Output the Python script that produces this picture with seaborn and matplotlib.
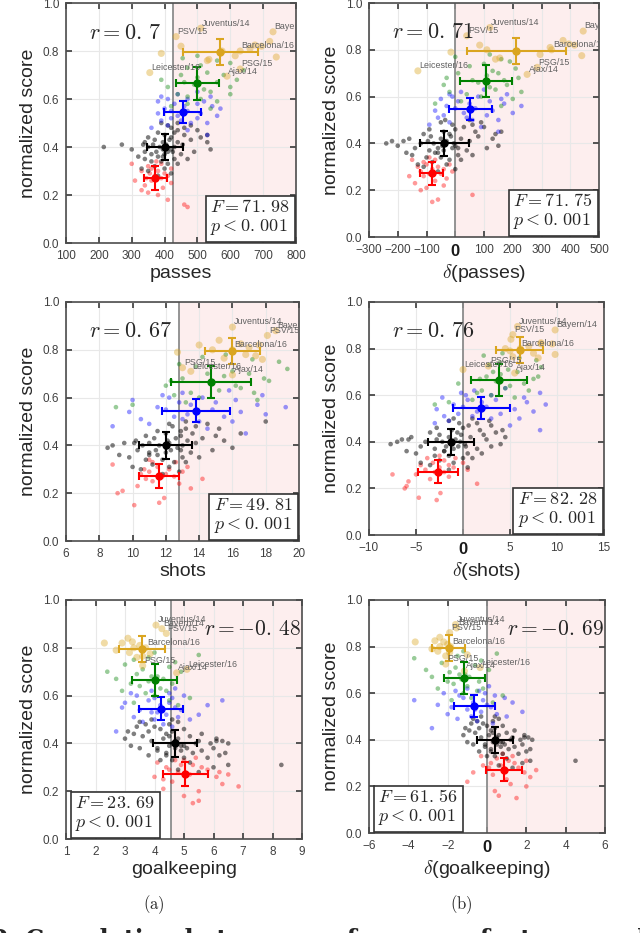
import matplotlib
matplotlib.use('Agg')

import numpy as np
import pandas as pd
import seaborn as sns
import matplotlib.pyplot as plt

# cluster order everywhere: red, black, blue, green, orange
cluster_colors = ['#ff0000', '#000000', '#0000ff', '#008000', '#daa520']

# normalized score of every team-season, per cluster (shared by all panels)
red_score = [0.15, 0.16, 0.18, 0.20, 0.21, 0.22, 0.23, 0.24, 0.25, 0.26, 0.26, 0.27, 0.27,
             0.28, 0.28, 0.29, 0.29, 0.30, 0.30, 0.31, 0.31, 0.32, 0.33, 0.33, 0.34]
black_score = [0.28, 0.29, 0.30, 0.31, 0.31, 0.32, 0.33, 0.33, 0.34, 0.34,
               0.35, 0.35, 0.35, 0.36, 0.36, 0.37, 0.37, 0.37, 0.38, 0.38,
               0.38, 0.38, 0.39, 0.39, 0.39, 0.39, 0.40, 0.40, 0.40, 0.40,
               0.41, 0.41, 0.41, 0.41, 0.42, 0.42, 0.42, 0.42, 0.43, 0.43,
               0.43, 0.44, 0.44, 0.44, 0.45, 0.45, 0.45, 0.46, 0.46, 0.47,
               0.47, 0.48, 0.48, 0.49, 0.49, 0.50, 0.50, 0.41, 0.38, 0.36]
blue_score = [0.45, 0.47, 0.48, 0.49, 0.50, 0.50, 0.51, 0.51, 0.52, 0.52, 0.53, 0.53, 0.54, 0.54, 0.55,
              0.55, 0.56, 0.56, 0.57, 0.57, 0.58, 0.58, 0.59, 0.59, 0.60, 0.60, 0.61, 0.61, 0.62, 0.63]
green_score = [0.56, 0.57, 0.58, 0.59, 0.60, 0.61, 0.62, 0.62, 0.63, 0.64, 0.65, 0.65, 0.66, 0.67,
               0.67, 0.68, 0.68, 0.69, 0.70, 0.70, 0.71, 0.72, 0.73, 0.74, 0.75, 0.76, 0.77, 0.78]
# first seven orange entries are the labelled teams
team_names = ['Juventus/14', 'Bayern/14', 'PSV/15', 'Barcelona/16', 'PSG/15', 'Leicester/16', 'Ajax/14']
orange_score = [0.895, 0.88, 0.86, 0.80, 0.725, 0.71, 0.695,
                0.79, 0.82, 0.76, 0.765, 0.80, 0.78, 0.825, 0.82, 0.84, 0.775, 0.81]

# passes
red_passes = [470, 460, 410, 380, 350, 330, 395, 340, 420, 360, 310, 390, 345,
              370, 410, 355, 400, 330, 380, 360, 420, 350, 390, 300, 375]
black_passes = [380, 420, 350, 400, 330, 370, 410, 440, 360, 390,
                340, 430, 470, 380, 320, 400, 360, 450, 410, 340,
                490, 375, 420, 300, 395, 540, 350, 430, 385, 215,
                405, 270, 455, 365, 440, 340, 395, 530, 415, 370,
                480, 420, 350, 510, 400, 460, 530, 430, 380, 440,
                500, 420, 460, 410, 480, 440, 390, 335, 425, 395]
blue_passes = [530, 470, 360, 410, 530, 480, 390, 450, 500, 420, 560, 440, 380, 510, 470,
               420, 570, 400, 545, 460, 500, 430, 380, 520, 410, 470, 390, 540, 440, 500]
green_passes = [540, 420, 470, 560, 510, 470, 600, 440, 540, 520, 410, 600, 490, 460,
                560, 390, 620, 500, 450, 580, 530, 640, 470, 510, 600, 560, 455, 500]
orange_passes = [510, 730, 435, 630, 630, 355, 590, 390, 450, 530, 535, 575, 615, 675, 695, 720, 740, 660]

# delta(passes)
red_dpasses = [-80, -60, 60, -120, -100, -40, -140, -70, -30, -110, -160, -50, -90,
               -120, -10, -80, -40, -130, -60, -100, -20, -110, -70, -150, -90]
black_dpasses = [-60, 0, -110, -30, -130, -80, -20, 20, -100, -50,
                 -150, 10, 60, -70, -170, -40, -90, 40, -10, -140,
                 110, -60, 0, -200, -45, 150, -120, -5, -75, -240,
                 -30, -220, 50, -95, 20, -160, -50, 130, -15, -85,
                 80, -20, -110, 140, -40, 70, 160, 0, -90, 30,
                 100, -10, 60, -50, 90, 50, -35, -180, 10, -60]
blue_dpasses = [150, 90, -90, -20, 150, 60, -60, 40, 110, -40, 200, 30, -70, 130, 70,
                0, 230, -30, 170, 50, 120, 10, -50, 160, -10, 80, -20, 180, 20, 100]
green_dpasses = [160, -70, 20, 200, 90, 40, 230, -20, 140, 120, -40, 180, 80, 60,
                 170, -30, 220, 110, 10, 150, 130, 210, 50, 100, 190, 160, 0, 120]
orange_dpasses = [120, 445, 40, 335, 285, -130, 250, -15, 85, 140, 155, 110, 295, 395, 415, 375, 440, 330]

# shots
red_shots = [10.1, 11.6, 11.9, 9.1, 9.4, 13.5, 10.3, 12.8, 11.2, 14.2, 10.8, 11.8, 12.5,
             10.5, 12.0, 11.0, 13.0, 10.7, 12.2, 11.5, 13.3, 8.8, 11.2, 12.6, 11.0]
black_shots = [11.8, 12.8, 10.5, 12.2, 10.0, 11.2, 12.5, 13.2, 10.8, 11.8,
               9.8, 13.0, 14.0, 11.5, 9.2, 12.0, 11.0, 13.5, 12.3, 10.3,
               14.8, 11.4, 12.7, 8.5, 12.0, 16.0, 10.6, 13.0, 11.6, 8.8,
               12.2, 9.5, 13.8, 11.0, 13.3, 10.2, 12.1, 15.5, 12.6, 11.3,
               14.2, 12.9, 10.8, 15.0, 12.0, 13.6, 16.5, 12.9, 11.5, 13.2,
               15.2, 12.4, 13.8, 12.2, 14.5, 13.2, 18.0, 10.1, 12.9, 11.0]
blue_shots = [16.8, 14.5, 8.8, 11.0, 16.0, 14.0, 10.5, 13.0, 15.5, 12.5, 18.0, 13.3, 9.8, 16.5, 14.8,
              12.0, 19.2, 11.5, 17.5, 13.5, 15.0, 12.8, 10.0, 16.2, 12.2, 14.2, 11.8, 17.8, 13.0, 15.8]
green_shots = [9.0, 10.0, 13.2, 17.5, 14.0, 12.5, 17.3, 13.5, 15.2, 16.5, 12.0, 16.2, 14.8, 12.3,
               18.2, 13.0, 17.9, 15.5, 14.5, 17.0, 16.0, 19.3, 13.8, 12.8, 18.8, 17.2, 14.2, 15.6]
orange_shots = [16.0, 18.6, 18.1, 16.0, 13.0, 13.5, 16.0, 12.7, 14.0, 17.8, 15.5, 14.8, 16.8, 16.5,
                17.6, 15.2, 17.4, 17.0]

# delta(shots)
red_dshots = [-2.8, -4.7, -2.4, -6.2, -6.0, 1.5, -5.8, -3.5, -1.5, -7.5, -5.0, -3.0, -2.0,
              -4.0, 0.5, -2.5, -1.0, -4.5, -1.5, -3.2, 0.0, -2.0, -3.8, -0.8, -2.5]
black_dshots = [-1.5, 0.5, -3.5, -1.0, -4.5, -2.5, 0.0, 1.0, -3.0, -1.5,
                -5.0, 0.5, 2.0, -2.0, -6.0, -1.0, -3.0, 1.5, -0.5, -4.5,
                3.0, -1.8, 0.2, -7.7, -1.2, 4.0, -4.0, -0.3, -2.2, -7.0,
                -0.8, -6.5, 2.5, -2.8, 0.8, -5.5, -1.5, 4.5, -0.2, -2.5,
                2.2, -0.6, -3.5, 3.5, -1.2, 1.8, 4.2, 0.0, -2.8, 0.6,
                3.0, -0.4, 1.5, -1.5, 2.8, 1.0, -1.0, -5.8, 0.3, -2.0]
blue_dshots = [8.2, 5.0, -3.0, -1.5, 6.0, 3.0, -2.0, 1.0, 4.0, -0.5, 7.5, 1.5, -2.8, 5.5, 2.5,
               0.0, 8.8, -1.0, 6.8, 2.0, 3.5, 0.5, -2.2, 6.5, 0.3, 3.0, -0.2, 8.2, 1.2, 4.5]
green_dshots = [-3.0, -1.5, 1.0, 5.5, 3.0, 1.5, 7.0, 2.0, 4.5, 5.0, -0.5, 6.5, 3.5, 1.8,
                7.5, 2.5, 8.0, 4.0, 3.2, 5.8, 4.8, 8.3, 2.8, 3.9, 7.8, 6.0, 2.2, 4.2]
orange_dshots = [5.8, 9.8, 5.3, 6.1, 2.7, 0.0, 5.5, 5.0, 8.3, 8.0, 5.3, 4.5, 7.5, 8.3, 9.5, 5.1, 9.8, 7.0]

# goalkeeping
red_gk = [5.3, 5.5, 5.0, 5.5, 4.3, 6.85, 6.3, 4.6, 4.3, 6.1, 4.0, 5.2, 6.5,
          4.8, 6.2, 4.5, 5.8, 4.4, 5.6, 4.9, 5.3, 4.1, 5.0, 4.7, 5.4]
black_gk = [5.5, 4.8, 6.0, 8.3, 6.5, 5.2, 4.6, 4.2, 5.8, 5.0,
            6.2, 4.4, 3.8, 5.3, 6.4, 4.9, 5.6, 4.1, 4.7, 6.0,
            3.5, 5.1, 4.5, 5.0, 4.9, 3.2, 5.9, 4.6, 5.4, 6.5,
            4.7, 6.3, 3.9, 5.5, 4.3, 6.1, 4.8, 3.0, 4.5, 5.2,
            3.6, 4.4, 5.6, 3.3, 4.6, 3.8, 3.1, 4.2, 5.0, 4.0,
            3.4, 4.5, 3.7, 4.8, 3.5, 3.9, 4.6, 6.1, 4.1, 4.4]
blue_gk = [2.7, 4.6, 4.3, 3.6, 5.2, 4.0, 4.8, 3.3, 4.4, 5.5, 3.9, 4.1, 4.9, 3.5, 4.7,
           2.9, 4.2, 5.8, 3.0, 4.5, 3.8, 6.3, 4.0, 4.6, 3.4, 5.0, 3.2, 4.5, 3.9, 4.7]
green_gk = [4.8, 3.3, 4.5, 5.2, 4.0, 3.7, 4.4, 2.9, 4.2, 3.5, 3.2, 4.6, 3.8, 4.3,
            2.7, 3.9, 4.1, 3.4, 2.4, 4.9, 3.6, 4.5, 3.0, 4.7, 3.3, 3.8, 5.5, 4.0]
orange_gk = [4.05, 4.25, 4.4, 3.7, 3.6, 5.1, 4.75, 2.7, 2.3, 3.4, 3.6, 3.3, 3.15, 3.25, 2.9, 3.1, 3.85, 3.5]

# delta(goalkeeping)
red_dgk = [1.5, 0.6, 0.4, 2.0, 1.2, -1.0, 1.0, 2.2, 0.3, -0.7, 1.9, 0.9, 2.5,
           0.1, 1.6, 0.7, -0.2, 1.4, 0.2, 1.1, 2.0, 0.5, 1.3, -0.3, 0.8]
black_dgk = [1.3, 0.6, 1.8, 4.5, 2.2, 1.0, 0.4, 0.0, 1.6, 0.8,
             2.0, 0.2, -0.4, 1.1, 2.2, 0.7, 1.4, -0.1, 0.5, 1.8,
             -0.7, 0.9, 0.3, 0.8, 0.7, -1.0, 1.7, 0.4, 1.2, 2.3,
             0.5, 2.1, -0.3, 1.3, 0.1, 1.9, 0.6, -1.2, 0.3, 1.0,
             -0.6, 0.2, 1.4, -0.9, 0.4, -0.4, -1.1, 0.0, 0.8, -0.2,
             -0.8, 0.3, -0.5, 0.6, -0.7, -0.3, 0.4, 1.9, -0.1, 0.2]
blue_dgk = [-2.8, 0.3, -0.5, -1.5, 1.0, -0.8, 0.5, -2.0, -0.3, 1.8, -1.0, -0.6, 0.2, -1.8, 0.0,
            -2.5, -0.7, 1.3, -3.7, -0.2, -1.2, 0.9, -1.4, 0.4, -2.2, -0.1, -1.6, -0.4, -1.0, 0.1]
green_dgk = [0.3, -1.8, -0.8, 0.8, -1.2, -0.5, -0.2, -2.5, -1.0, -1.7, -2.0, -0.4, -1.3, -0.9,
             -2.8, -1.4, -1.1, -1.9, -3.1, 0.1, -1.6, -0.6, -2.3, -0.3, -3.7, -1.5, 0.5, -1.2]
orange_dgk = [-1.6, -1.55, -1.9, -1.85, -2.1, -0.35, -1.15, -2.8, -3.65, -2.1, -1.0, -2.4, -2.5,
              -2.65, -2.2, -2.4, -1.9, -2.0]

# cluster centroids with standard deviations
score_mean = [0.272, 0.40, 0.546, 0.665, 0.795]
score_std = [0.05, 0.055, 0.047, 0.068, 0.055]
passes_mean, passes_std = [372, 400, 455, 500, 570], [35, 55, 57, 65, 115]
dpasses_mean, dpasses_std = [-82, -38, 52, 107, 213], [40, 85, 75, 92, 172]
shots_mean, shots_std = [11.6, 12.0, 13.8, 14.7, 16.0], [1.2, 1.6, 2.05, 2.4, 1.65]
dshots_mean, dshots_std = [-2.65, -1.25, 1.95, 3.8, 6.05], [2.1, 2.45, 3.05, 3.0, 2.5]
gk_mean, gk_std = [5.05, 4.7, 4.22, 4.0, 3.58], [0.75, 0.75, 0.73, 0.75, 0.78]
dgk_mean, dgk_std = [0.87, 0.4, -0.65, -1.15, -1.95], [0.92, 0.9, 1.05, 1.05, 0.85]

# statistics, thresholds and axis ticks per panel
xlabels = ['passes', r'$\delta$(passes)', 'shots', r'$\delta$(shots)', 'goalkeeping', r'$\delta$(goalkeeping)']
r_values = ['0.7', '0.71', '0.67', '0.76', '-0.48', '-0.69']
f_values = ['71.98', '71.75', '49.81', '82.28', '23.69', '61.56']
thresholds = [425, 0, 12.8, 0, 4.55, 0]
xticks_passes = [100, 200, 300, 400, 500, 600, 700, 800]
xticks_dpasses = [-300, -200, -100, 0, 100, 200, 300, 400, 500]
xticks_shots = [6, 8, 10, 12, 14, 16, 18, 20]
xticks_dshots = [-10, -5, 0, 5, 10, 15]
xticks_gk = [1, 2, 3, 4, 5, 6, 7, 8, 9]
xticks_dgk = [-6, -4, -2, 0, 2, 4, 6]
yticks = [0.0, 0.2, 0.4, 0.6, 0.8, 1.0]

sns.set_theme(style='whitegrid')
plt.rcParams['font.family'] = ['Liberation Sans', 'DejaVu Sans']
plt.rcParams['mathtext.fontset'] = 'cm'
plt.rcParams['grid.color'] = '#e8e8e8'
plt.rcParams['grid.linewidth'] = 0.8

scores = [red_score, black_score, blue_score, green_score, orange_score]
panels = [
    ([red_passes, black_passes, blue_passes, green_passes, orange_passes], passes_mean, passes_std, xticks_passes),
    ([red_dpasses, black_dpasses, blue_dpasses, green_dpasses, orange_dpasses], dpasses_mean, dpasses_std, xticks_dpasses),
    ([red_shots, black_shots, blue_shots, green_shots, orange_shots], shots_mean, shots_std, xticks_shots),
    ([red_dshots, black_dshots, blue_dshots, green_dshots, orange_dshots], dshots_mean, dshots_std, xticks_dshots),
    ([red_gk, black_gk, blue_gk, green_gk, orange_gk], gk_mean, gk_std, xticks_gk),
    ([red_dgk, black_dgk, blue_dgk, green_dgk, orange_dgk], dgk_mean, dgk_std, xticks_dgk),
]

W, H = 640, 933
# axes boxes in pixels: left, top, right, bottom
boxes = [(66, 3, 296, 243), (369, 3, 599, 237),
         (66, 302, 299, 541), (369, 302, 604, 535),
         (66, 600, 302, 839), (369, 600, 605, 833)]

fig = plt.figure(figsize=(W / 100, H / 100), dpi=100)

for i, (xs_list, xmean, xstd, xticks) in enumerate(panels):
    l, t, r, b = boxes[i]
    ax = fig.add_axes([l / W, 1 - b / H, (r - l) / W, (b - t) / H])
    ax.set_axisbelow(True)
    xlim = (xticks[0], xticks[-1])

    # shaded region above the threshold
    ax.axvspan(thresholds[i], xlim[1], color='#fdeeee', zorder=0, lw=0)
    ax.axvline(thresholds[i], color='#8c8c8c', lw=1.3, zorder=1)

    for g in range(5):
        df = pd.DataFrame({'x': xs_list[g], 'y': scores[g]})
        big = g == 4
        sns.scatterplot(data=df, x='x', y='y', color=cluster_colors[g],
                        alpha=0.4 if g != 1 else 0.5, s=26 if big else 11,
                        edgecolor='none', ax=ax, zorder=2, legend=False)
    for g in range(5):
        ax.errorbar(xmean[g], score_mean[g], xerr=xstd[g], yerr=score_std[g], fmt='o',
                    color=cluster_colors[g], ms=5, elinewidth=1.5, capsize=3, capthick=1.5, zorder=4)

    for k, name in enumerate(team_names):
        ax.annotate(name, (xs_list[4][k], orange_score[k]), xytext=(1, 0.5), textcoords='offset points',
                    fontsize=6.4, color='0.38', ha='left', va='bottom', annotation_clip=False, clip_on=True,
                    zorder=5)

    ax.set_xlim(*xlim)
    ax.set_ylim(0, 1)
    ax.set_xticks(xticks)
    ax.set_yticks(yticks)
    ax.set_xticklabels([str(v).replace('-', '\u2212') for v in xticks])
    ax.set_yticklabels(['%.1f' % v for v in yticks])
    ax.tick_params(axis='both', labelsize=8.5, colors='0.25', pad=5, direction='in', length=4,
                   top=True, right=True, bottom=True, left=True)
    if thresholds[i] == 0:
        for lab in ax.get_xticklabels():
            if lab.get_text() == '0':
                lab.set_fontweight('bold')
                lab.set_fontsize(12)
                lab.set_color('0.1')
    for sp in ax.spines.values():
        sp.set_color('0.3')
        sp.set_linewidth(1.2)

    ax.set_xlabel(xlabels[i], fontsize=14, color='0.15', labelpad=2)
    ax.set_ylabel('normalized score', fontsize=14, color='0.15', labelpad=4)

    rtxt = r'$r=%s$' % r_values[i].replace('.', '.\\,')
    ftxt = '$F=%s$\n$p<0.\\,001$' % f_values[i].replace('.', '.\\,')
    if i < 4:
        ax.text(0.1, 0.875, rtxt, transform=ax.transAxes, fontsize=16, ha='left', va='center', zorder=6)
        ax.text(0.975, 0.025, ftxt, transform=ax.transAxes, fontsize=13, ha='right', va='bottom',
                multialignment='left', linespacing=1.1, zorder=6,
                bbox=dict(boxstyle='square,pad=0.25', fc='white', ec='0.2', lw=1.2))
    else:
        ax.text(0.995, 0.875, rtxt, transform=ax.transAxes, fontsize=15.5, ha='right', va='center', zorder=6)
        ax.text(0.04, 0.025, ftxt, transform=ax.transAxes, fontsize=13, ha='left', va='bottom',
                multialignment='left', linespacing=1.1, zorder=6,
                bbox=dict(boxstyle='square,pad=0.25', fc='white', ec='0.2', lw=1.2))

fig.text(154 / W, 1 - 905 / H, r'$\mathrm{(a)}$', fontsize=12, ha='center', va='center')
fig.text(461 / W, 1 - 905 / H, r'$\mathrm{(b)}$', fontsize=12, ha='center', va='center')
fig.text(-0.012, -0.0145, '2: Correlation between performance features and scores for (',
         fontsize=17, fontweight='bold', family='DejaVu Serif', ha='left', va='baseline')

plt.savefig('out.png', dpi=100)
plt.close()
